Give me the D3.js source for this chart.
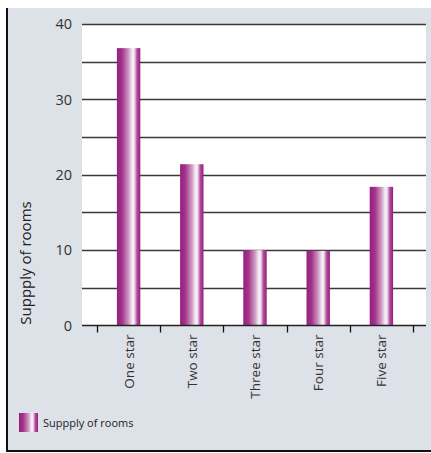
<!DOCTYPE html>
<html>
<head>
<meta charset="utf-8">
<script src="https://cdn.jsdelivr.net/npm/d3@7"></script>
<style>
  html, body { margin: 0; padding: 0; background: #fff; }
  svg { display: block; font-family: "Open Sans", "Noto Sans", sans-serif; }
</style>
</head>
<body>
<svg id="chart" width="431" height="453"></svg>
<script>
// Hotel room supply by star rating
const categories = ["One star", "Two star", "Three star", "Four star", "Five star"];
const supply = [36.8, 21.4, 10, 9.9, 18.4];
const yTicks = [0, 10, 20, 30, 40];
const gridValues = [5, 10, 15, 20, 25, 30, 35, 40];
const seriesName = "Suppply of rooms";
const axisTitle = "Suppply of rooms";

const svg = d3.select("#chart");

// panel background with left and bottom rule
svg.append("rect").attr("x", 6).attr("y", 8).attr("width", 425).attr("height", 443)
  .attr("fill", "#dde1e8");
svg.append("line").attr("x1", 7).attr("x2", 7).attr("y1", 8).attr("y2", 452)
  .attr("stroke", "#111").attr("stroke-width", 2);
svg.append("line").attr("x1", 6).attr("x2", 431).attr("y1", 451).attr("y2", 451)
  .attr("stroke", "#111").attr("stroke-width", 2);

const plot = { left: 82, right: 426, top: 24, bottom: 325.5 };

const y = d3.scaleLinear().domain([0, 40]).range([plot.bottom, plot.top]);
const x = d3.scaleBand().domain(categories).range([97, 413]).paddingInner(0.63).paddingOuter(0.315);

// plot area
svg.append("rect").attr("x", plot.left).attr("y", plot.top)
  .attr("width", plot.right - plot.left).attr("height", plot.bottom - plot.top)
  .attr("fill", "#fff");

// bar gradient: purple edges with a pale highlight right of centre
const defs = svg.append("defs");
const grad = defs.append("linearGradient").attr("id", "barGrad")
  .attr("x1", "0%").attr("x2", "100%").attr("y1", "0%").attr("y2", "0%");
[[0, "#9a1c80"], [0.22, "#a1348a"], [0.5, "#cf9ac3"], [0.66, "#f6eef5"], [0.74, "#f3e6f0"], [0.86, "#b14e9b"], [1, "#981a7e"]]
  .forEach(([o, c]) => grad.append("stop").attr("offset", o).attr("stop-color", c));

// gridlines
svg.append("g").selectAll("line").data(gridValues).join("line")
  .attr("x1", plot.left).attr("x2", plot.right)
  .attr("y1", d => Math.round(y(d)) + 0.5).attr("y2", d => Math.round(y(d)) + 0.5)
  .attr("stroke", "#3a3a3a").attr("stroke-width", 1.3);

// bars
svg.append("g").selectAll("rect").data(categories).join("rect")
  .attr("x", d => x(d))
  .attr("width", x.bandwidth())
  .attr("y", (d, i) => y(supply[i]))
  .attr("height", (d, i) => y(0) - y(supply[i]))
  .attr("fill", "url(#barGrad)");

// y axis labels
const yAxis = svg.append("g").attr("transform", `translate(${plot.left},0)`)
  .call(d3.axisLeft(y).tickValues(yTicks).tickSize(0).tickPadding(10).tickFormat(d3.format("d")));
yAxis.select(".domain").remove();
yAxis.selectAll("text").attr("font-size", 14.5).attr("fill", "#333")
  .attr("font-family", "'Open Sans', sans-serif");

// x axis line and ticks at category boundaries
svg.append("line").attr("x1", plot.left).attr("x2", plot.right)
  .attr("y1", plot.bottom).attr("y2", plot.bottom)
  .attr("stroke", "#222").attr("stroke-width", 1.5);
const step = x.step();
const boundaries = categories.map(c => x(c) + x.bandwidth() / 2 - step / 2)
  .concat([x(categories[categories.length - 1]) + x.bandwidth() / 2 + step / 2]);
svg.append("g").selectAll("line").data(boundaries).join("line")
  .attr("x1", d => Math.round(d) + 0.5).attr("x2", d => Math.round(d) + 0.5)
  .attr("y1", plot.bottom).attr("y2", plot.bottom + 7)
  .attr("stroke", "#111").attr("stroke-width", 1.3);

// category labels, rotated
svg.append("g").selectAll("text").data(categories).join("text")
  .attr("transform", d => `translate(${x(d) + x.bandwidth() / 2 + 5},${plot.bottom + 9}) rotate(-90)`)
  .attr("text-anchor", "end")
  .attr("font-size", 13.5).attr("fill", "#333")
  .text(d => d);

// y axis title
svg.append("text")
  .attr("transform", `translate(31,263) rotate(-90)`)
  .attr("text-anchor", "middle")
  .attr("font-size", 15).attr("fill", "#222")
  .text(axisTitle);

// legend
svg.append("rect").attr("x", 19).attr("y", 413).attr("width", 19).attr("height", 19)
  .attr("fill", "url(#barGrad)");
svg.append("text").attr("x", 43).attr("y", 427)
  .attr("font-size", 11).attr("fill", "#222").text(seriesName);
</script>
</body>
</html>
